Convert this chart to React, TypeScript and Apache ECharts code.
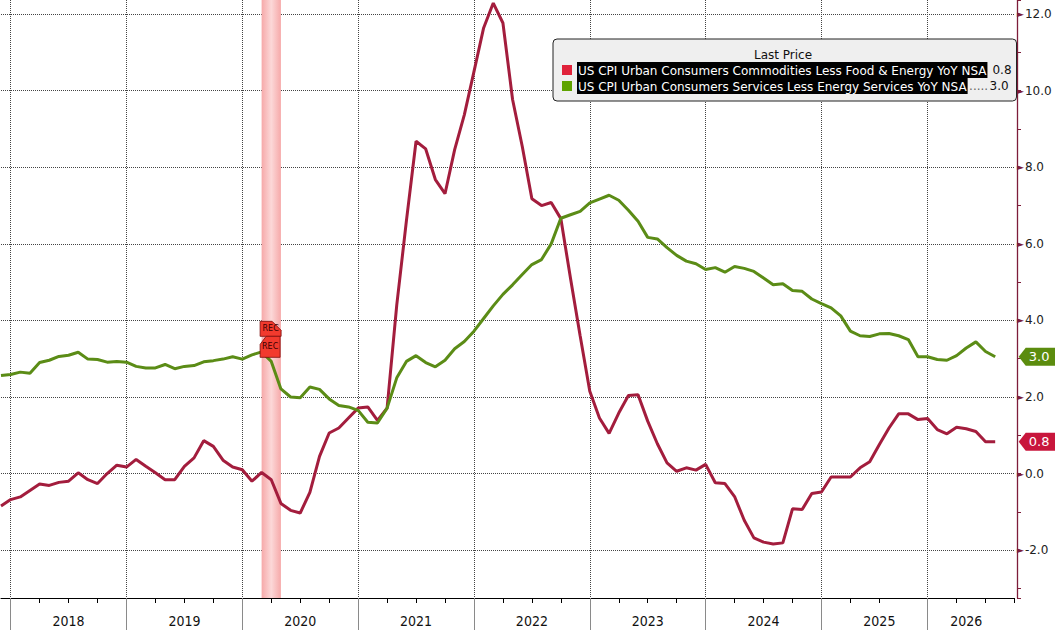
import React, { useEffect, useRef } from 'react';
import * as echarts from 'echarts';

// ---------- data ----------
const SERIES_NAMES = [
  'US CPI Urban Consumers Commodities Less Food & Energy YoY NSA',
  'US CPI Urban Consumers Services Less Energy Services YoY NSA',
];

// observation dates (monthly, Oct 2025 not published)
const FIRST_MONTH = '2017-12';
const LAST_MONTH = '2026-10';
const MISSING_MONTHS = ['2025-10'];

function buildMonths(first: string, last: string, skip: string[]): string[] {
  const out: string[] = [];
  let y = Number(first.slice(0, 4));
  let m = Number(first.slice(5, 7));
  const ly = Number(last.slice(0, 4));
  const lm = Number(last.slice(5, 7));
  while (y < ly || (y === ly && m <= lm)) {
    const s = `${y}-${String(m).padStart(2, '0')}`;
    if (!skip.includes(s)) out.push(s);
    m += 1;
    if (m > 12) { m = 1; y += 1; }
  }
  return out;
}
const MONTHS = buildMonths(FIRST_MONTH, LAST_MONTH, MISSING_MONTHS);

// Commodities less food & energy, YoY %
const CORE_GOODS = [
  -0.85, -0.68, -0.61, -0.44, -0.27, -0.31, -0.23, -0.2, 0.02, -0.16, -0.26, 0.0,
  0.22, 0.17, 0.37, 0.19, 0.02, -0.16, -0.16, 0.19, 0.41, 0.86, 0.71, 0.35,
  0.17, 0.1, -0.2, 0.03, -0.16, -0.78, -0.96, -1.03, -0.49, 0.45, 1.06, 1.19,
  1.45, 1.71, 1.74, 1.39, 1.71, 4.4, 6.6, 8.68, 8.48, 7.68, 7.31, 8.46,
  9.37, 10.5, 11.64, 12.29, 11.77, 9.77, 8.55, 7.18, 7.0, 7.08, 6.66, 5.1,
  3.6, 2.15, 1.45, 1.05, 1.58, 2.04, 2.06, 1.37, 0.78, 0.28, 0.06, 0.15,
  0.09, 0.24, -0.24, -0.26, -0.6, -1.22, -1.68, -1.79, -1.84, -1.81, -0.92, -0.94,
  -0.52, -0.48, -0.09, -0.09, -0.09, 0.15, 0.31, 0.76, 1.19, 1.56, 1.56, 1.41,
  1.44, 1.15, 1.04, 1.21, 1.17, 1.1, 0.83, 0.83,
];

// Services less energy services, YoY %
const CORE_SERVICES = [
  2.56, 2.59, 2.65, 2.62, 2.9, 2.96, 3.06, 3.09, 3.17, 2.99, 2.98, 2.91,
  2.93, 2.91, 2.8, 2.76, 2.76, 2.85, 2.74, 2.8, 2.82, 2.92, 2.95, 2.99,
  3.05, 2.99, 3.1, 3.18, 2.93, 2.21, 2.0, 1.98, 2.26, 2.2, 1.95, 1.78,
  1.74, 1.65, 1.34, 1.32, 1.71, 2.5, 2.93, 3.08, 2.9, 2.79, 2.96, 3.26,
  3.45, 3.72, 4.05, 4.38, 4.68, 4.93, 5.2, 5.46, 5.59, 6.0, 6.67, 6.76,
  6.85, 7.07, 7.17, 7.27, 7.14, 6.88, 6.59, 6.17, 6.13, 5.9, 5.7, 5.55,
  5.48, 5.33, 5.38, 5.26, 5.41, 5.36, 5.28, 5.11, 4.93, 4.96, 4.78, 4.76,
  4.56, 4.44, 4.33, 4.12, 3.72, 3.6, 3.58, 3.65, 3.66, 3.6, 3.5, 3.05,
  3.05, 2.98, 2.96, 3.08, 3.28, 3.44, 3.19, 3.05,
];

const RECESSION = ['2020-03', '2020-05'];
const REC_LABEL = 'REC';
const YEAR_LABEL_AT = ['2018-07', '2019-07', '2020-07', '2021-07', '2022-07', '2023-07', '2024-07', '2025-07', '2026-05'];
const QUARTER_MONTHS = ['01', '04', '07', '10'];
const Y_MIN = -3.25;
const Y_MAX = 12.37;
const LEGEND_TITLE = 'Last Price';

// ---------- styles ----------
const FONT = 'DejaVu Sans';
const NARROW = "'Liberation Sans Narrow', 'DejaVu Sans Condensed', sans-serif";
const RED = '#a31d3d';
const GREEN = '#5b8c16';
const RED_TAG = '#c8163c';
const GREEN_TAG = '#5b8c0e';
const AXIS_COLOR = '#7d1d3a';
const gridLine = () => ({ color: '#444', type: 'dotted', width: 1 });
const TAG_PATH = 'path://M0,9L7,0H37V18H7Z';
const REC_TOP_PATH = 'path://M0,0H12L21,9V15H0Z';
const REC_BOTTOM_PATH = 'path://M6,0H20V21H0V8Z';

const fmt1 = (v: number) => Number(v).toFixed(1);

function valueTag(data: number[], color: string) {
  const last = data.length - 1;
  return {
    coord: [MONTHS[last], data[last]],
    value: data[last],
    symbol: TAG_PATH,
    symbolSize: [37, 18],
    symbolOffset: [42, 0],
    itemStyle: { color },
    label: {
      show: true,
      position: 'inside',
      offset: [2, 0],
      formatter: (p: any) => fmt1(p.value),
      color: '#fff',
      fontSize: 13,
      fontFamily: FONT,
    },
  };
}

function recTag(path: string, size: number[], offset: number[]) {
  const idx = MONTHS.indexOf(RECESSION[0]);
  return {
    coord: [MONTHS[idx], CORE_SERVICES[idx]],
    value: REC_LABEL,
    symbol: path,
    symbolSize: size,
    symbolOffset: offset,
    itemStyle: { color: '#f23a2e', borderColor: '#7a0c0c', borderWidth: 0.8 },
    label: {
      show: true,
      position: 'inside',
      formatter: REC_LABEL,
      color: '#3a0000',
      fontSize: 8,
      fontFamily: FONT,
    },
  };
}

function buildOption() {
  const lastGoods = CORE_GOODS[CORE_GOODS.length - 1];
  const lastServices = CORE_SERVICES[CORE_SERVICES.length - 1];
  return {
    animation: false,
    backgroundColor: '#ffffff',
    textStyle: { fontFamily: FONT },
    grid: { left: 1, right: 40.5, top: 0, bottom: 32, containLabel: false },
    legend: {
      left: 553,
      top: 39,
      orient: 'vertical',
      selectedMode: false,
      padding: [23, 5, 7, 9],
      itemGap: 0,
      itemWidth: 10,
      itemHeight: 10,
      icon: 'rect',
      backgroundColor: '#efefef',
      borderColor: '#222',
      borderWidth: 1,
      borderRadius: 4,
      data: [
        { name: SERIES_NAMES[0], itemStyle: { color: '#e0223a' } },
        { name: SERIES_NAMES[1], itemStyle: { color: '#5fa300' } },
      ],
      formatter: (name: string) =>
        name === SERIES_NAMES[0]
          ? `{n|${name}}{s| }{v|${fmt1(lastGoods)}}`
          : `{n|${name}}{d|.....}{v|${fmt1(lastServices)}}`,
      textStyle: {
        fontFamily: FONT,
        fontSize: 12,
        rich: {
          n: { backgroundColor: '#000', color: '#fff', fontSize: 12, lineHeight: 15, height: 15, padding: [1, 1, 0, 1] },
          s: { width: 5, fontSize: 12 },
          d: { width: 22, align: 'center', color: '#666', fontSize: 12 },
          v: { color: '#111', fontSize: 12 },
        },
      },
    },
    graphic: [
      {
        type: 'text',
        x: 783,
        y: 55,
        z: 100,
        style: {
          text: LEGEND_TITLE,
          fill: '#111',
          font: `12px ${FONT}`,
          align: 'center',
          verticalAlign: 'middle',
          textAlign: 'center',
          textVerticalAlign: 'middle',
        },
      },
    ],
    xAxis: [
      {
        type: 'category',
        data: MONTHS,
        boundaryGap: false,
        position: 'bottom',
        axisLine: { show: true, onZero: false, lineStyle: { color: '#000', width: 1 } },
        axisTick: {
          show: true,
          length: 5,
          interval: (_i: number, v: string) => QUARTER_MONTHS.includes(String(v).slice(5)),
          lineStyle: { color: '#000', width: 1 },
        },
        axisLabel: {
          show: true,
          interval: (_i: number, v: string) => YEAR_LABEL_AT.includes(String(v)),
          formatter: (v: string) => String(v).slice(0, 4),
          margin: 16,
          fontFamily: NARROW,
          fontSize: 14,
          color: '#111',
        },
        splitLine: {
          show: true,
          interval: (_i: number, v: string) => String(v).endsWith('-01'),
          lineStyle: gridLine(),
        },
      },
      {
        type: 'category',
        data: MONTHS,
        boundaryGap: false,
        position: 'bottom',
        axisLine: { show: false, onZero: false },
        axisTick: {
          show: true,
          length: 32,
          interval: (_i: number, v: string) => String(v).endsWith('-01'),
          lineStyle: { color: '#8a8a8a', width: 1 },
        },
        axisLabel: { show: false },
        splitLine: { show: false },
      },
    ],
    yAxis: [
      {
        type: 'value',
        position: 'right',
        min: Y_MIN,
        max: Y_MAX,
        minInterval: 2,
        maxInterval: 2,
        offset: 2.5,
        axisLine: { show: true, lineStyle: { color: AXIS_COLOR, width: 1.3 } },
        axisTick: { show: false },
        axisLabel: {
          show: true,
          showMinLabel: false,
          showMaxLabel: false,
          margin: 0,
          formatter: (v: number) => `{t|►}{v|${fmt1(v)}}`,
          rich: {
            t: { color: AXIS_COLOR, fontSize: 9, fontFamily: FONT },
            v: { color: '#222', fontSize: 12, fontFamily: FONT, padding: [0, 0, 0, 1] },
          },
        },
        splitLine: { show: true, showMinLine: false, showMaxLine: false, lineStyle: gridLine() },
      },
      {
        type: 'value',
        position: 'right',
        min: Y_MIN,
        max: Y_MAX,
        minInterval: 1,
        maxInterval: 1,
        offset: 2.5,
        axisLine: { show: false },
        axisTick: { show: true, length: 4, lineStyle: { color: AXIS_COLOR, width: 1 } },
        axisLabel: { show: false },
        splitLine: { show: false },
      },
    ],
    series: [
      {
        name: SERIES_NAMES[0],
        type: 'line',
        data: CORE_GOODS,
        xAxisIndex: 0,
        yAxisIndex: 0,
        symbol: 'none',
        showSymbol: false,
        lineStyle: { color: RED, width: 3 },
        itemStyle: { color: RED },
        emphasis: { disabled: true },
        z: 3,
        markArea: {
          silent: true,
          itemStyle: {
            color: {
              type: 'linear', x: 0, y: 0, x2: 1, y2: 0,
              colorStops: [
                { offset: 0, color: '#f6a9a9' },
                { offset: 0.5, color: '#fcd8d8' },
                { offset: 1, color: '#f6a9a9' },
              ],
            },
          },
          data: [[{ xAxis: RECESSION[0] }, { xAxis: RECESSION[1] }]],
        },
        markPoint: { silent: true, data: [valueTag(CORE_GOODS, RED_TAG)] },
      },
      {
        name: SERIES_NAMES[1],
        type: 'line',
        data: CORE_SERVICES,
        xAxisIndex: 0,
        yAxisIndex: 0,
        symbol: 'none',
        showSymbol: false,
        lineStyle: { color: GREEN, width: 3 },
        itemStyle: { color: GREEN },
        emphasis: { disabled: true },
        z: 4,
        markPoint: {
          silent: true,
          data: [
            valueTag(CORE_SERVICES, GREEN_TAG),
            recTag(REC_TOP_PATH, [21, 15], [9, -23]),
            recTag(REC_BOTTOM_PATH, [20, 21], [8.5, -5]),
          ],
        },
      },
    ],
  };
}

export default function App() {
  const ref = useRef<HTMLDivElement>(null);
  useEffect(() => {
    if (!ref.current) return;
    const chart = echarts.init(ref.current, undefined, { renderer: 'svg' });
    chart.setOption(buildOption() as any);
    return () => chart.dispose();
  }, []);
  return (
    <div
      ref={ref}
      style={{ position: 'fixed', left: 0, top: 0, width: 1055, height: 630, background: '#fff' }}
    />
  );
}
